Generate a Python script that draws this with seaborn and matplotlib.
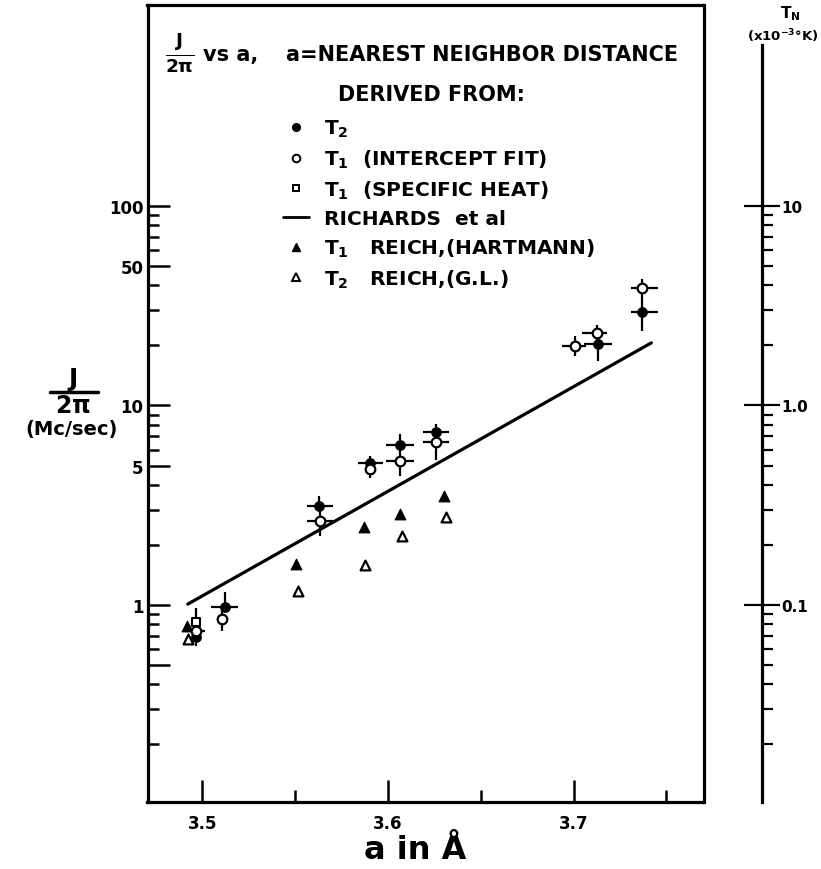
import numpy as np
import pandas as pd
import matplotlib
matplotlib.use("Agg")
import matplotlib.pyplot as plt
import seaborn as sns
from matplotlib.lines import Line2D
from matplotlib.ticker import FixedLocator, FixedFormatter, NullFormatter

# ---------------- data ----------------
# T2 (filled circles)
t2_x = [3.4966, 3.5120, 3.5628, 3.5902, 3.6062, 3.6261, 3.7132, 3.7366]
t2_y = [0.69, 0.977, 3.12, 5.15, 6.34, 7.37, 20.3, 29.4]
t2_ylo = [0.69, 0.977, 3.12, 5.15, 6.34, 7.37, 16.7, 23.6]
t2_yhi = [0.69, 1.16, 3.52, 5.58, 7.20, 8.08, 20.3, 29.4]
t2_xlo = [3.4966, 3.5045, 3.5561, 3.5837, 3.5988, 3.6191, 3.7058, 3.7312]
t2_xhi = [3.4966, 3.5190, 3.5701, 3.5972, 3.6139, 3.6331, 3.7209, 3.7457]

# T1 intercept fit (open circles)
t1_x = [3.4966, 3.5104, 3.5634, 3.5902, 3.6062, 3.6261, 3.7008, 3.7127, 3.7371]
t1_y = [0.741, 0.851, 2.65, 4.80, 5.27, 6.56, 19.9, 23.1, 38.8]
t1_ylo = [0.623, 0.741, 2.22, 4.33, 4.43, 5.33, 17.7, 20.3, 29.4]
t1_yhi = [0.966, 0.977, 3.12, 5.15, 6.34, 7.37, 22.3, 25.3, 43.1]
t1_xlo = [3.4912, 3.5104, 3.5566, 3.5902, 3.5988, 3.6191, 3.6938, 3.7045, 3.7312]
t1_xhi = [3.5015, 3.5104, 3.5706, 3.5902, 3.6139, 3.6331, 3.7067, 3.7180, 3.7457]

# T1 specific heat (open square)
sh_x = [3.4966]
sh_y = [0.822]

# Reich T1 (Hartmann) filled triangles
rh_x = [3.4917, 3.5505, 3.5869, 3.6067, 3.6304]
rh_y = [0.785, 1.61, 2.46, 2.86, 3.52]

# Reich T2 (G.L.) open triangles
rg_x = [3.4922, 3.5513, 3.5877, 3.6074, 3.6310]
rg_y = [0.676, 1.175, 1.59, 2.22, 2.76]

# Richards et al line
ri_x = [3.4921, 3.7419]
ri_y = [1.01, 20.6]

x_ticks = [3.5, 3.6, 3.7]
x_ticklabels = ["3.5", "3.6", "3.7"]
x_minor = [3.55, 3.65, 3.75]
y_major = [0.5, 1, 5, 10, 50, 100]
y_major_labels = ["", "1", "5", "10", "50", "100"]
y_minor = [0.2, 0.3, 0.4, 0.6, 0.7, 0.8, 0.9, 2, 3, 4, 6, 7, 8, 9,
           20, 30, 40, 60, 70, 80, 90]
tn_major = [0.1, 1, 10]
tn_labels = ["0.1", "1.0", "10"]
tn_minor = [0.02, 0.03, 0.04, 0.05, 0.06, 0.07, 0.08, 0.09,
            0.2, 0.3, 0.4, 0.5, 0.6, 0.7, 0.8, 0.9,
            2, 3, 4, 5, 6, 7, 8, 9]

legend_labels = ["T$_2$", "T$_1$  (INTERCEPT FIT)", "T$_1$  (SPECIFIC HEAT)",
                 "RICHARDS  et al", "T$_1$   REICH,(HARTMANN)", "T$_2$   REICH,(G.L.)"]

# ---------------- style ----------------
sns.set_theme(style="white")
plt.rcParams['font.family'] = ['DejaVu Sans']
plt.rcParams['font.weight'] = 'bold'
plt.rcParams['mathtext.fontset'] = 'dejavusans'
plt.rcParams['mathtext.default'] = 'bf'
for k in ['text.color', 'axes.labelcolor', 'xtick.color', 'ytick.color', 'axes.edgecolor']:
    plt.rcParams[k] = 'black'

W, H = 821, 870
fig = plt.figure(figsize=(W / 100, H / 100), dpi=100)
L, R, T, B = 147.5, 703.5, 6, 803
ax = fig.add_axes([L / W, 1 - B / H, (R - L) / W, (B - T) / H])
ax.set_yscale('log')
ax.set_xlim(3.4704, 3.7700)
ax.set_ylim(0.1029, 1017)

# Richards line
df_ri = pd.DataFrame({"x": ri_x, "y": ri_y})
sns.lineplot(data=df_ri, x="x", y="y", ax=ax, color="black", linewidth=2.3,
             estimator=None, sort=False, legend=False)

# error bars
def ebars(xs, ys, xlo, xhi, ylo, yhi):
    xs = np.array(xs); ys = np.array(ys)
    xerr = [xs - np.array(xlo), np.array(xhi) - xs]
    yerr = [ys - np.array(ylo), np.array(yhi) - ys]
    ax.errorbar(xs, ys, xerr=xerr, yerr=yerr, fmt='none', ecolor='black',
                elinewidth=1.6, capsize=0, zorder=3)

ebars(t2_x, t2_y, t2_xlo, t2_xhi, t2_ylo, t2_yhi)
ebars(t1_x, t1_y, t1_xlo, t1_xhi, t1_ylo, t1_yhi)

# markers
sns.scatterplot(x=rh_x, y=rh_y, ax=ax, marker='^', s=60, color='black',
                edgecolor='black', linewidth=0.8, zorder=4, legend=False)
sns.scatterplot(x=rg_x, y=rg_y, ax=ax, marker='^', s=50, facecolor='white',
                edgecolor='black', linewidth=1.6, zorder=4, legend=False)
sns.scatterplot(x=sh_x, y=sh_y, ax=ax, marker='s', s=40, facecolor='white',
                edgecolor='black', linewidth=1.5, zorder=4, legend=False)
sns.scatterplot(x=t2_x, y=t2_y, ax=ax, marker='o', s=48, color='black',
                edgecolor='black', linewidth=0.8, zorder=5, legend=False)
sns.scatterplot(x=t1_x, y=t1_y, ax=ax, marker='o', s=48, facecolor='white',
                edgecolor='black', linewidth=1.6, zorder=6, legend=False)

# axes styling
for s in ax.spines.values():
    s.set_linewidth(2.3)
    s.set_color('black')
ax.set_xlabel("")
ax.set_ylabel("")
ax.xaxis.set_major_locator(FixedLocator(x_ticks))
ax.xaxis.set_major_formatter(FixedFormatter(x_ticklabels))
ax.xaxis.set_minor_locator(FixedLocator(x_minor))
ax.xaxis.set_minor_formatter(NullFormatter())
ax.yaxis.set_major_locator(FixedLocator(y_major))
ax.yaxis.set_major_formatter(FixedFormatter(y_major_labels))
ax.yaxis.set_minor_locator(FixedLocator(y_minor))
ax.yaxis.set_minor_formatter(NullFormatter())
ax.tick_params(axis='x', which='major', direction='in', length=16, width=1.8,
               labelsize=12, pad=9, top=False, bottom=True)
ax.tick_params(axis='x', which='minor', direction='in', length=9, width=1.8,
               top=False, bottom=True)
ax.tick_params(axis='y', which='major', direction='in', length=16, width=1.8,
               labelsize=12, pad=3, left=True, right=True)
ax.tick_params(axis='y', which='minor', direction='in', length=8, width=1.8,
               left=True, right=True)
for lab in ax.get_xticklabels() + ax.get_yticklabels():
    lab.set_fontweight('bold')

# T_N axis
ax2 = ax.twinx()
ax2.set_yscale('log')
ax2.set_ylim(0.1029 / 10, 1017 / 10)
for s in ['top', 'bottom', 'left']:
    ax2.spines[s].set_visible(False)
ax2.spines['right'].set_position(('axes', (762 - L) / (R - L)))
ax2.spines['right'].set_linewidth(2.3)
ax2.spines['right'].set_bounds(0.0103, 64.0)
ax2.yaxis.set_major_locator(FixedLocator(tn_major))
ax2.yaxis.set_major_formatter(FixedFormatter(tn_labels))
ax2.yaxis.set_minor_locator(FixedLocator(tn_minor))
ax2.yaxis.set_minor_formatter(NullFormatter())
ax2.tick_params(axis='y', which='major', direction='inout', length=26, width=1.6,
                labelsize=11, pad=1, right=True, left=False)
ax2.tick_params(axis='y', which='minor', direction='out', length=8, width=1.6,
                right=True, left=False)
for lab in ax2.get_yticklabels():
    lab.set_fontweight('bold')

# legend
handles = [
    Line2D([], [], marker='o', color='black', linestyle='none', markersize=5.5),
    Line2D([], [], marker='o', markerfacecolor='white', markeredgecolor='black',
           markeredgewidth=1.4, linestyle='none', markersize=5.5),
    Line2D([], [], marker='s', markerfacecolor='white', markeredgecolor='black',
           markeredgewidth=1.4, linestyle='none', markersize=5),
    Line2D([], [], color='black', linewidth=2.0),
    Line2D([], [], marker='^', color='black', linestyle='none', markersize=6),
    Line2D([], [], marker='^', markerfacecolor='white', markeredgecolor='black',
           markeredgewidth=1.4, linestyle='none', markersize=5.5),
]
leg = ax.legend(handles, legend_labels, loc='upper left',
                bbox_to_anchor=(283 / W, 1 - 119 / H), bbox_transform=fig.transFigure,
                frameon=False, fontsize=14.5, handlelength=1.3, handletextpad=0.75,
                labelspacing=0.42, borderpad=0, borderaxespad=0)
for t in leg.get_texts():
    t.set_fontweight('bold')

# in-plot header texts
fig.text(180 / W, 1 - 53 / H, r"$\frac{J}{2\pi}$", fontsize=19, fontweight='bold',
         ha='center', va='center')
fig.text(203 / W, 1 - 55 / H, "vs a,", fontsize=15, fontweight='bold',
         ha='left', va='center')
fig.text(286 / W, 1 - 55 / H, "a=NEAREST NEIGHBOR DISTANCE",
         fontsize=15, fontweight='bold', ha='left', va='center')
fig.text(431 / W, 1 - 95 / H, "DERIVED FROM:", fontsize=15, fontweight='bold',
         ha='center', va='center')

# y-axis label
fig.text(73 / W, 1 - 379 / H, "J", fontsize=18, fontweight='bold', ha='center', va='center')
fig.add_artist(Line2D([50 / W, 98 / W], [1 - 393 / H, 1 - 393 / H],
                      color='black', linewidth=2.5, transform=fig.transFigure))
fig.text(73 / W, 1 - 406 / H, r"2$\pi$", fontsize=17, fontweight='bold',
         ha='center', va='center')
fig.text(72 / W, 1 - 430 / H, "(Mc/sec)", fontsize=14, fontweight='bold',
         ha='center', va='center')

# x-axis label
fig.text(415 / W, 1 - 851 / H, "a in Å", fontsize=23, fontweight='bold',
         ha='center', va='center')

# T_N label
fig.text(790 / W, 1 - 14 / H, "T$_N$", fontsize=11, fontweight='bold',
         ha='center', va='center')
fig.text(819 / W, 1 - 36 / H, "(x10$^{-3}$°K)", fontsize=9.5, fontweight='bold',
         ha='right', va='center')

fig.savefig("out.png", dpi=100)
